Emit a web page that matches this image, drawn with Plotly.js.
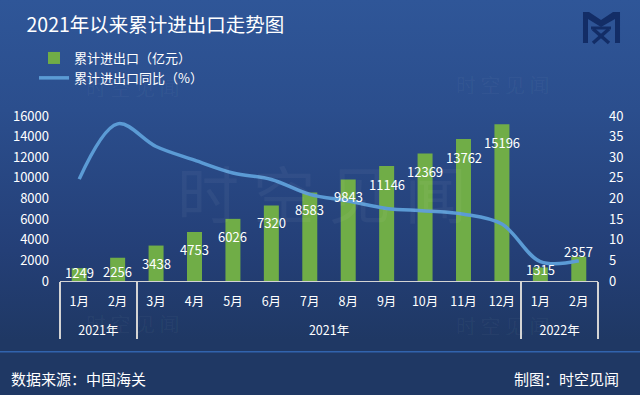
<!DOCTYPE html>
<html>
<head>
<meta charset="utf-8">
<script src="https://cdn.plot.ly/plotly-3.0.1.min.js"></script>
<style>
  html, body { margin: 0; padding: 0; }
  #chart {
    width: 640px; height: 395px;
    background: linear-gradient(180deg, #2f5698 0px, #2b4e8d 110px, #243f77 250px, #1f3864 340px, #1f3864 395px);
  }
</style>
</head>
<body>
<div id="chart"></div>
<script>
// ---- data ----
const months = ['1月','2月','3月','4月','5月','6月','7月','8月','9月','10月','11月','12月','1月','2月'];
const years  = ['2021年','2021年',
                '2021年\u200b','2021年\u200b','2021年\u200b','2021年\u200b','2021年\u200b',
                '2021年\u200b','2021年\u200b','2021年\u200b','2021年\u200b','2021年\u200b',
                '2022年','2022年'];
const cumTrade = [1249, 2256, 3438, 4753, 6026, 7320, 8583, 9843, 11146, 12369, 13762, 15196, 1315, 2357];
const cumYoY   = [24.7, 38.1, 32.6, 29.3, 26.2, 24.6, 21.0, 19.4, 17.6, 17.0, 16.2, 13.8, 4.7, 4.9];
const seriesNames = ['累计进出口（亿元）', '累计进出口同比（%）'];

// ---- styling (label vertical nudges in px, not data) ----
const labelShift = [-4, -14, -18, -18, -18, -17, -17, -17, -18, -18, -18, -18, -2, 5];

const W = 640, H = 395;
const M = {l: 60, r: 42, t: 116, b: 114};
const PW = W - M.l - M.r, PH = H - M.t - M.b;
const px2x = p => (p - M.l) / PW;
const px2y = p => (H - M.b - p) / PH;

const FONT = '"Noto Sans CJK SC", "Noto Sans", sans-serif';
const WHITE = '#ffffff';

// second-level labels drop one line lower, like the reference's two-row table
const yearLabels = years.map(y => '<br>' + y);

const bars = {
  type: 'bar',
  name: seriesNames[0],
  x: [yearLabels, months],
  y: cumTrade,
  marker: {color: '#70ad47'},
  hoverinfo: 'skip',
  legendgroup: 'a'
};
const line = {
  type: 'scatter',
  mode: 'lines',
  name: seriesNames[1],
  x: [yearLabels, months],
  y: cumYoY,
  yaxis: 'y2',
  line: {color: '#5b9bd5', width: 3.5, shape: 'spline', smoothing: 1},
  hoverinfo: 'skip',
  legendgroup: 'b'
};

const annotations = [];
// bar value labels
cumTrade.forEach((v, i) => {
  annotations.push({
    xref: 'x', yref: 'y', x: i, y: v,
    text: String(v), showarrow: false,
    yanchor: 'middle', yshift: labelShift[i],
    font: {family: FONT, size: 13, color: WHITE}
  });
});
// watermarks
const wm = 'rgba(255,255,255,0.045)';
[[132, 87], [502, 85], [132, 323], [502, 325]].forEach(([cx, cy]) => {
  annotations.push({
    xref: 'paper', yref: 'paper', x: px2x(cx), y: px2y(cy),
    text: '时 空 见 闻', showarrow: false, xanchor: 'center', yanchor: 'middle',
    font: {family: FONT, size: 20, color: wm}
  });
});
annotations.push({
  xref: 'paper', yref: 'paper', x: px2x(322), y: px2y(192),
  text: '时 空 见 闻', showarrow: false, xanchor: 'center', yanchor: 'middle',
  font: {family: FONT, size: 62, color: wm}
});
// footer texts
annotations.push({
  xref: 'paper', yref: 'paper', x: px2x(9), y: px2y(378),
  text: '数据来源：中国海关', showarrow: false, xanchor: 'left', yanchor: 'middle',
  font: {family: FONT, size: 15, color: WHITE}
});
annotations.push({
  xref: 'paper', yref: 'paper', x: px2x(621), y: px2y(378),
  text: '制图：时空见闻', showarrow: false, xanchor: 'right', yanchor: 'middle',
  font: {family: FONT, size: 15, color: WHITE}
});

// logo + footer line
const path = pts => pts.map((p, i) => (i ? 'L' : 'M') + px2x(p[0]).toFixed(4) + ',' + px2y(p[1]).toFixed(4)).join(' ') + ' Z';
const logoColor = '#132d66';
const shapes = [
  {type: 'line', xref: 'paper', yref: 'paper', x0: px2x(0), x1: px2x(640), y0: px2y(351.7), y1: px2y(351.7),
   line: {color: '#3163ad', width: 1.5}},
  {type: 'path', xref: 'paper', yref: 'paper',
   path: path([[583,12],[589,12],[601,20],[613,12],[620,12],[620,43],[615,43],[615,19],[601,27],[588,19],[588,43],[583,43]]),
   fillcolor: logoColor, line: {width: 0}},
  {type: 'line', xref: 'paper', yref: 'paper', x0: px2x(591), x1: px2x(611), y0: px2y(28), y1: px2y(28), line: {color: logoColor, width: 3}},
  {type: 'line', xref: 'paper', yref: 'paper', x0: px2x(593), x1: px2x(609), y0: px2y(29), y1: px2y(43), line: {color: logoColor, width: 3.5}},
  {type: 'line', xref: 'paper', yref: 'paper', x0: px2x(609), x1: px2x(593), y0: px2y(29), y1: px2y(43), line: {color: logoColor, width: 3.5}}
];

const layout = {
  width: W, height: H,
  margin: M,
  paper_bgcolor: 'rgba(0,0,0,0)',
  plot_bgcolor: 'rgba(0,0,0,0)',
  font: {family: FONT, color: WHITE},
  title: {
    text: '2021年以来累计进出口走势图',
    xref: 'container', yref: 'container',
    x: 26.5 / W, xanchor: 'left',
    y: 1 - 25 / H, yanchor: 'middle',
    font: {family: FONT, size: 19.5, color: WHITE}
  },
  showlegend: true,
  legend: {
    x: px2x(34), xanchor: 'left', y: px2y(43), yanchor: 'top',
    bgcolor: 'rgba(0,0,0,0)', font: {family: FONT, size: 13, color: WHITE},
    tracegroupgap: 11, traceorder: 'normal'
  },
  bargap: 0.61,
  xaxis: {
    type: 'multicategory',
    showline: true, linecolor: '#d4d4d4', linewidth: 1.3,
    showdividers: true, dividercolor: '#d4d4d4', dividerwidth: 1.3,
    ticks: '', showgrid: false, zeroline: false, ticklabelstandoff: 9,
    tickfont: {family: FONT, size: 12.5, color: WHITE}
  },
  yaxis: {
    range: [0, 16000], dtick: 2000, tickformat: 'd',
    showgrid: false, zeroline: false, showline: false,
    ticks: '', ticklabelstandoff: 10,
    tickfont: {family: FONT, size: 13, color: WHITE}
  },
  yaxis2: {
    overlaying: 'y', side: 'right',
    range: [0, 40], dtick: 5, tickformat: 'd',
    showgrid: false, zeroline: false, showline: false,
    ticks: '', ticklabelstandoff: 10,
    tickfont: {family: FONT, size: 13, color: WHITE}
  },
  annotations: annotations,
  shapes: shapes
};

Plotly.newPlot('chart', [bars, line], layout, {displayModeBar: false, staticPlot: true});
</script>
</body>
</html>
